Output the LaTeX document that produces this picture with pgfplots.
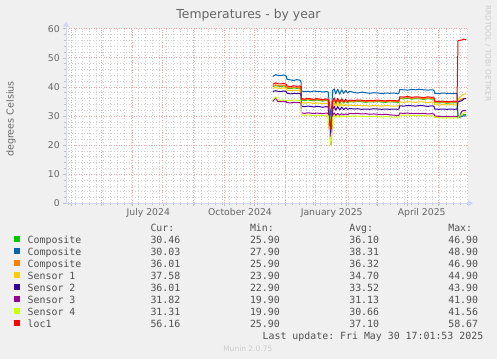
\documentclass[border=0pt]{standalone}
\usepackage{fontspec}
\setmainfont{DejaVu Sans}
\setmonofont{DejaVu Sans Mono}
\usepackage{pgfplots}
\usepackage{pgfplotstable}
\pgfplotsset{compat=1.18}
\usetikzlibrary{arrows.meta}
\definecolor{cG}{HTML}{00CC00}
\definecolor{cB}{HTML}{0066B3}
\definecolor{cO}{HTML}{FF8000}
\definecolor{cS1}{HTML}{FFCC00}
\definecolor{cS2}{HTML}{330099}
\definecolor{cS3}{HTML}{990099}
\definecolor{cS4}{HTML}{CCFF00}
\definecolor{cR}{HTML}{FF0000}
\definecolor{bgc}{HTML}{F0F0F0}
\definecolor{axc}{HTML}{CFD6F8}
\definecolor{fontc}{HTML}{666666}
\definecolor{legc}{HTML}{505050}
\definecolor{mgridc}{HTML}{EDA8A8}
\definecolor{gridc}{HTML}{D0D0D0}
\definecolor{faintc}{HTML}{CCCCCC}
\newcommand{\legrow}[5]{\makebox[122.8bp][l]{#1}\makebox[99.5bp][l]{#2}\makebox[99.3bp][l]{#3}\makebox[99bp][l]{#4}#5}
\pgfplotstableread{
x g b o s1 s2 s3 s4 r
-43 40.1 43.6 40.3 39.5 38.4 35.0 35.5 40.9
-40 40.5 44.2 40.7 39.8 38.7 36.2 36.6 41.4
-38 40.3 44.0 40.5 39.6 38.5 35.0 35.6 41.1
-35 40.1 43.9 40.3 39.5 38.4 34.9 35.4 41.0
-32 40.4 44.1 40.6 39.7 38.6 35.0 35.5 41.2
-29.5 40.1 43.8 40.3 39.5 38.4 34.9 35.4 40.9
-28.7 39.6 42.6 39.8 38.9 37.8 34.6 35.4 40.3
-25 39.4 42.4 39.6 38.7 37.6 34.5 35.3 40.1
-22 39.7 42.2 39.9 38.9 37.8 34.7 35.5 40.4
-19 39.5 42.5 39.7 38.8 37.7 34.6 35.4 40.2
-16 39.6 42.3 39.8 38.9 37.8 34.6 35.4 40.3
-14.8 39.4 42.1 39.6 38.7 37.6 34.5 35.3 40.1
-14.2 35.5 38.6 35.7 34.6 33.4 31.1 30.4 36.0
-11 35.3 38.4 35.5 34.4 33.2 30.9 30.2 35.8
-8 35.6 38.5 35.8 34.6 33.4 31.1 30.4 36.1
-5 35.4 38.3 35.6 34.5 33.3 31.0 30.3 35.9
-2 35.2 38.6 35.4 34.3 33.1 30.8 30.1 35.7
1 35.5 38.4 35.7 34.5 33.3 31.0 30.3 36.0
4 35.3 38.5 35.5 34.4 33.2 30.9 30.2 35.8
7 35.1 38.2 35.3 34.2 33.0 30.8 30.1 35.6
10 35.4 38.4 35.6 34.4 33.2 31.0 30.3 35.9
12.5 35.2 38.3 35.4 34.3 33.1 30.9 30.2 35.7
13.5 30.2 35.0 30.5 29.5 28.5 26.0 25.5 31.0
15.3 26.8 29.5 26.5 23.5 22.5 20.2 19.9 25.5
17 34.7 38.8 34.9 33.6 32.3 30.3 29.6 35.2
18.5 35.7 39.3 35.9 34.5 33.3 31.0 30.3 36.2
20 34.1 37.6 34.3 33.2 32.0 30.2 29.5 34.6
22 35.5 39.2 35.7 34.4 33.2 30.9 30.2 36.0
24 34.3 37.5 34.5 33.3 32.1 30.3 29.6 34.8
26 35.4 39.0 35.6 34.2 33.0 30.8 30.1 35.9
28 34.4 37.8 34.6 33.4 32.2 30.4 29.7 34.9
30 35.2 38.8 35.4 34.0 32.8 30.7 30.0 35.7
32 34.5 37.9 34.7 33.5 32.3 30.5 29.8 35.0
34 35.0 38.5 35.2 33.8 32.6 30.9 30.0 35.5
38 34.8 38.1 35.0 33.6 32.4 30.8 29.9 35.3
42 35.0 37.9 35.2 33.7 32.5 30.9 30.0 35.5
46 34.9 38.2 35.1 33.5 32.3 30.7 29.8 35.4
50 34.7 38.0 34.9 33.6 32.4 30.8 29.9 35.2
54 34.9 37.8 35.1 33.4 32.3 30.6 29.8 35.4
58 34.8 38.0 35.0 33.6 32.5 30.7 29.9 35.3
62 35.0 37.9 35.2 33.5 32.4 30.6 29.8 35.5
66 34.8 37.7 35.0 33.4 32.3 30.5 29.7 35.3
70 34.7 37.9 34.9 33.6 32.4 30.6 29.8 35.2
74 34.9 37.8 35.1 33.5 32.3 30.4 29.7 35.4
78 34.8 37.9 35.0 33.4 32.4 30.3 29.6 35.3
82 34.7 37.7 34.9 33.5 32.3 30.2 29.6 35.2
83.2 34.8 37.8 35.0 33.4 32.4 30.2 29.6 35.3
84 36.0 39.1 36.2 34.8 33.5 31.0 30.3 36.6
88 35.9 39.0 36.1 34.7 33.4 30.9 30.2 36.5
92 36.1 38.9 36.3 34.9 33.6 31.0 30.3 36.7
96 35.8 39.1 36.0 34.8 33.5 30.8 30.1 36.4
100 36.0 39.0 36.2 34.7 33.4 30.9 30.2 36.6
104 35.9 39.2 36.1 34.9 33.6 30.8 30.1 36.5
108 35.7 39.0 35.9 34.8 33.5 30.9 30.2 36.3
112 36.0 38.9 36.2 34.6 33.3 30.7 30.0 36.6
116 35.8 39.0 36.0 34.8 33.5 30.8 30.1 36.4
118.2 35.9 38.9 36.1 34.7 33.4 30.7 30.0 36.5
119 34.6 37.8 34.8 33.9 32.4 30.0 29.5 35.1
123 34.5 37.7 34.7 33.8 32.3 29.9 29.4 35.0
127 34.6 37.9 34.8 33.9 32.4 29.8 29.3 35.1
131 34.4 37.8 34.6 33.8 32.3 29.9 29.4 34.9
135 34.5 37.7 34.7 33.9 32.4 29.8 29.3 35.0
139 34.6 37.8 34.8 33.8 32.3 29.9 29.4 35.1
141.3 34.5 37.7 34.7 33.9 32.4 29.8 29.3 35.0
142.3 30.0 29.4 35.0 35.8 34.8 29.8 29.3 55.9
144 30.2 29.6 35.4 36.5 35.1 29.9 30.2 56.0
146 30.3 29.8 35.8 37.0 35.2 31.6 30.4 56.1
148 30.5 30.1 36.1 37.5 35.9 31.9 31.0 56.4
150.5 30.46 30.0 36.0 37.6 36.0 31.8 31.3 56.2
}\temps
\begin{document}
\begin{tikzpicture}
\fill[bgc] (0,0) rectangle (497bp,359bp);
\useasboundingbox (0,0) rectangle (497bp,359bp);
\begin{axis}[
  scale only axis, width=402bp, height=174.6bp,
  at={(66bp,155.7bp)}, anchor=south west,
  xmin=-249.7, xmax=152.3, ymin=0, ymax=60,
  axis background/.style={fill=white},
  axis lines=left,
  axis line style={draw=axc, line width=1bp},
  x axis line style={-{Triangle[width=6bp,length=5bp]}, shorten >=-5bp},
  y axis line style={-{Triangle[width=6bp,length=5bp]}, shorten >=-7bp},
  xtick={-244.6,-214,-183.5,-152.9,-122.3,-91.7,-61.2,-30.6,0,30.6,61.2,91.7,122.3},
  xticklabels={},
  minor xtick={-247,-240,...,152},
  ytick={0,10,...,60}, yticklabels={0,10,20,30,40,50,60},
  minor ytick={2,4,6,8,12,14,16,18,22,24,26,28,32,34,36,38,42,44,46,48,52,54,56,58},
  grid=both,
  major grid style={draw=mgridc, dash pattern=on 1bp off 1.5bp, line width=0.7bp},
  minor grid style={draw=gridc, dash pattern=on 1bp off 2bp, line width=0.6bp},
  tick style={draw=gray!50, line width=0.6bp},
  major tick length=3bp, minor tick length=2bp, tick align=outside,
  extra x ticks={-167.4,-75.7,16,106},
  extra x tick labels={July 2024,October 2024,January 2025,April 2025},
  extra x tick style={grid=none, major tick length=0pt},
  tick label style={font=\fontsize{9.3bp}{11bp}\selectfont, text=fontc, inner sep=0pt},
  xticklabel style={yshift=-5.2bp},
  yticklabel style={xshift=-3bp},
  title={Temperatures - by year},
  title style={at={(axis description cs:0.454,1.0269)}, anchor=base, font=\fontsize{12.4bp}{14bp}\selectfont, text=fontc, inner sep=0pt},
  ylabel={degrees Celsius},
  ylabel style={at={(axis description cs:-0.1368,0.4828)}, anchor=center, font=\fontsize{9.6bp}{11bp}\selectfont, text=fontc, inner sep=0pt},
  every axis plot/.append style={line width=1bp, line join=round},
  no markers,
  legend image code/.code={\fill[#1] (0bp,0.5bp) rectangle (5.3bp,5.5bp); \path (12.7bp,0bp);},
  legend cell align=left,
  legend style={at={(axis description cs:-0.12935,-0.11741)}, anchor=north west,
    draw=none, fill=none, inner sep=0pt, outer sep=0pt, row sep=0pt, column sep=0pt,
    font=\ttfamily\fontsize{9.9bp}{12bp}\selectfont, text=legc,
    nodes={inner sep=0pt, outer sep=0pt, text height=7.5bp, text depth=4.5bp}},
]
\addlegendimage{empty legend}
\addlegendentry{\legrow{}{Cur:}{Min:}{Avg:}{Max:}}
\addplot[color=cG] table[x=x,y=g]{\temps};
\addlegendentry{\legrow{Composite}{30.46}{25.90}{36.10}{46.90}}
\addplot[color=cB] table[x=x,y=b]{\temps};
\addlegendentry{\legrow{Composite}{30.03}{27.90}{38.31}{48.90}}
\addplot[color=cO] table[x=x,y=o]{\temps};
\addlegendentry{\legrow{Composite}{36.01}{25.90}{36.32}{46.90}}
\addplot[color=cS1] table[x=x,y=s1]{\temps};
\addlegendentry{\legrow{Sensor 1}{37.58}{23.90}{34.70}{44.90}}
\addplot[color=cS2] table[x=x,y=s2]{\temps};
\addlegendentry{\legrow{Sensor 2}{36.01}{22.90}{33.52}{43.90}}
\addplot[color=cS3] table[x=x,y=s3]{\temps};
\addlegendentry{\legrow{Sensor 3}{31.82}{19.90}{31.13}{41.90}}
\addplot[color=cS4] table[x=x,y=s4]{\temps};
\addlegendentry{\legrow{Sensor 4}{31.31}{19.90}{30.66}{41.56}}
\addplot[color=cR] table[x=x,y=r]{\temps};
\addlegendentry{\legrow{loc1}{56.16}{25.90}{37.10}{58.67}}
\addlegendimage{empty legend}
\addlegendentry{\hspace*{235bp}Last update: Fri May 30 17:01:53 2025}
\end{axis}
\node[rotate=-90, anchor=west, inner sep=0pt, text=faintc, font=\fontsize{7.5bp}{9bp}\selectfont] at (488bp,354bp) {RRDTOOL / TOBI OETIKER};
\node[anchor=center, inner sep=0pt, text=faintc, font=\fontsize{7.5bp}{9bp}\selectfont] at (247.8bp,10.7bp) {Munin 2.0.75};
\end{tikzpicture}
\end{document}
